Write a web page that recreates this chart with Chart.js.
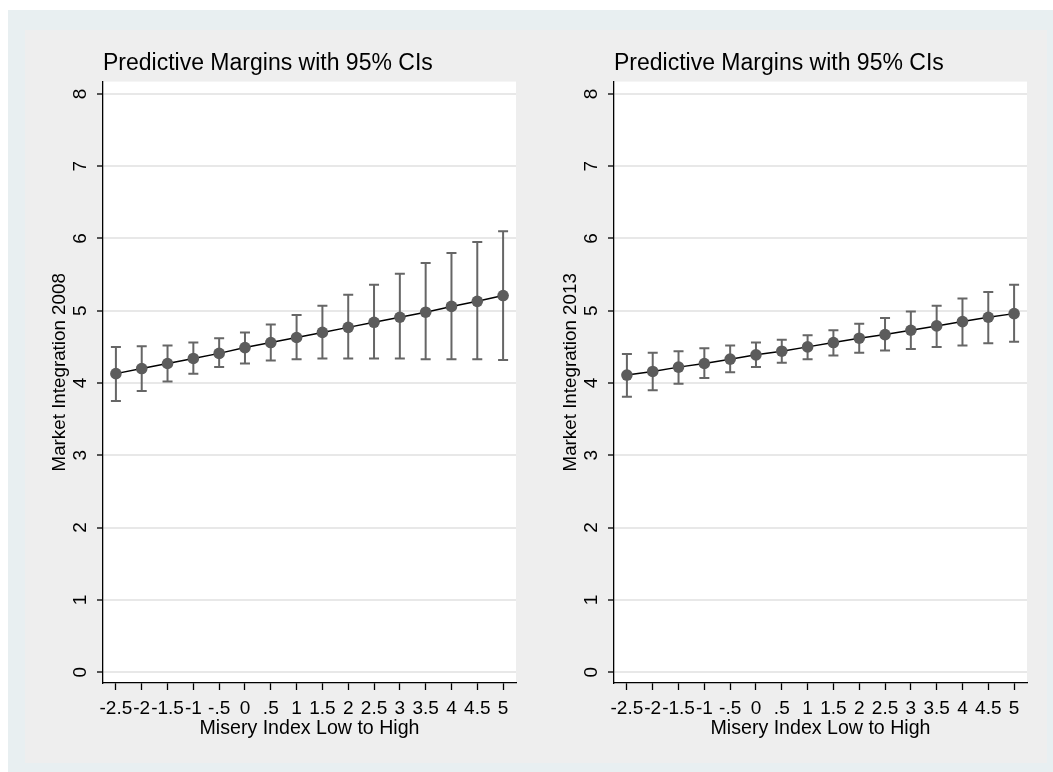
<!DOCTYPE html>
<html>
<head>
<meta charset="utf-8">
<script src="https://cdn.jsdelivr.net/npm/chart.js@4.4.0/dist/chart.umd.min.js"></script>
<style>
  body { margin: 0; width: 1053px; height: 772px; overflow: hidden; position: relative; background: #fff; }
  #back { position: absolute; left: 8px; top: 10px; width: 1045px; height: 762px; background: #e8eff1; }
  #panel { position: absolute; left: 25px; top: 30px; width: 1022px; height: 733px; background: #eeeeee; }
  .box { position: absolute; top: 30px; width: 511px; height: 733px; }
</style>
</head>
<body>
<div id="back"></div>
<div id="panel"></div>
<div class="box" style="left:25px"><canvas id="chart-2008" width="511" height="733"></canvas></div>
<div class="box" style="left:536px"><canvas id="chart-2013" width="511" height="733"></canvas></div>
<script>
var xVals = [-2.5, -2, -1.5, -1, -0.5, 0, 0.5, 1, 1.5, 2, 2.5, 3, 3.5, 4, 4.5, 5];
var xTickText = ['-2.5', '-2', '-1.5', '-1', '-.5', '0', '.5', '1', '1.5', '2', '2.5', '3', '3.5', '4', '4.5', '5'];
var yTickVals = [0, 1, 2, 3, 4, 5, 6, 7, 8];

var margin2008 = [4.13, 4.20, 4.27, 4.34, 4.41, 4.49, 4.56, 4.63, 4.70, 4.77, 4.84, 4.91, 4.98, 5.06, 5.13, 5.21];
var upper2008  = [4.50, 4.51, 4.52, 4.56, 4.62, 4.70, 4.81, 4.94, 5.07, 5.22, 5.36, 5.51, 5.66, 5.80, 5.95, 6.10];
var lower2008  = [3.75, 3.89, 4.02, 4.13, 4.22, 4.27, 4.31, 4.33, 4.34, 4.34, 4.34, 4.34, 4.33, 4.33, 4.33, 4.32];

var margin2013 = [4.11, 4.16, 4.22, 4.27, 4.33, 4.39, 4.44, 4.50, 4.56, 4.62, 4.67, 4.73, 4.79, 4.85, 4.91, 4.96];
var upper2013  = [4.40, 4.42, 4.44, 4.48, 4.52, 4.56, 4.60, 4.66, 4.73, 4.82, 4.90, 4.99, 5.07, 5.17, 5.26, 5.36];
var lower2013  = [3.81, 3.90, 3.99, 4.07, 4.15, 4.22, 4.28, 4.33, 4.38, 4.42, 4.45, 4.47, 4.50, 4.52, 4.55, 4.57];

var FONT = '"Liberation Sans", Arial, sans-serif';

// white plot region behind everything
var plotBg = {
  id: 'plotBg',
  beforeDraw: function(chart) {
    var a = chart.chartArea, ctx = chart.ctx;
    ctx.save();
    ctx.fillStyle = '#ffffff';
    ctx.fillRect(a.left, a.top, a.right - a.left, a.bottom - a.top);
    ctx.restore();
  }
};

// confidence interval bars with caps
var ciBars = {
  id: 'ciBars',
  beforeDatasetsDraw: function(chart) {
    var lo = chart.options.plugins.ciBars.lower, hi = chart.options.plugins.ciBars.upper;
    var xs = chart.scales.x, ys = chart.scales.y, ctx = chart.ctx;
    ctx.save();
    ctx.strokeStyle = '#666666';
    ctx.lineWidth = 2;
    for (var i = 0; i < xVals.length; i++) {
      var px = xs.getPixelForValue(xVals[i]);
      var y1 = ys.getPixelForValue(lo[i]);
      var y2 = ys.getPixelForValue(hi[i]);
      ctx.beginPath();
      ctx.moveTo(px, y1); ctx.lineTo(px, y2);
      ctx.moveTo(px - 5, y1); ctx.lineTo(px + 5, y1);
      ctx.moveTo(px - 5, y2); ctx.lineTo(px + 5, y2);
      ctx.stroke();
    }
    ctx.restore();
  }
};

// vertical y tick labels and the y axis title
var yLabels = {
  id: 'yLabels',
  afterDraw: function(chart) {
    var ys = chart.scales.y, ctx = chart.ctx;
    ctx.save();
    ctx.fillStyle = '#000';
    ctx.textAlign = 'center';
    ctx.textBaseline = 'middle';
    ctx.font = '19px ' + FONT;
    yTickVals.forEach(function(v) {
      ctx.save();
      ctx.translate(ys.right - 22, ys.getPixelForValue(v));
      ctx.rotate(-Math.PI / 2);
      ctx.fillText(String(v), 0, 0);
      ctx.restore();
    });
    ctx.font = '18.8px ' + FONT;
    ctx.translate(ys.left + 10, (ys.top + ys.bottom) / 2 - 10);
    ctx.rotate(-Math.PI / 2);
    ctx.fillText(chart.options.plugins.yLabels.title, 0, 0);
    ctx.restore();
  }
};

function makeChart(id, yTitle, mid, lo, hi) {
  new Chart(document.getElementById(id), {
    type: 'line',
    data: {
      datasets: [{
        data: xVals.map(function(x, i) { return { x: x, y: mid[i] }; }),
        borderColor: '#000000',
        borderWidth: 1.5,
        pointRadius: 5.8,
        pointBackgroundColor: '#5c5c5c',
        pointBorderWidth: 0,
        tension: 0
      }]
    },
    plugins: [plotBg, ciBars, yLabels],
    options: {
      responsive: false,
      animation: false,
      layout: { padding: { left: 25, right: 20, top: 20, bottom: 20 } },
      plugins: {
        legend: { display: false },
        tooltip: { enabled: false },
        ciBars: { lower: lo, upper: hi },
        yLabels: { title: yTitle },
        title: {
          display: true,
          text: 'Predictive Margins with 95% CIs',
          align: 'start',
          fullSize: false,
          color: '#000',
          font: { family: FONT, size: 23, weight: 'normal' },
          padding: { top: 0, bottom: 4 }
        }
      },
      scales: {
        x: {
          type: 'linear',
          min: -2.75,
          max: 5.25,
          afterBuildTicks: function(s) { s.ticks = xVals.map(function(v) { return { value: v }; }); },
          afterFit: function(s) { s.height = 60; },
          grid: { drawOnChartArea: false, drawTicks: true, tickLength: 7, tickColor: '#000', tickWidth: 1.3 },
          border: { display: true, color: '#000', width: 1.3 },
          ticks: {
            autoSkip: false,
            maxRotation: 0,
            minRotation: 0,
            padding: 7,
            color: '#000',
            font: { family: FONT, size: 19 },
            callback: function(v, i) { return xTickText[i]; }
          },
          title: {
            display: true,
            text: 'Misery Index Low to High',
            color: '#000',
            font: { family: FONT, size: 19.6 },
            padding: { top: 0, bottom: 3 }
          }
        },
        y: {
          min: -0.15,
          max: 8.17,
          afterBuildTicks: function(s) { s.ticks = yTickVals.map(function(v) { return { value: v }; }); },
          afterFit: function(s) { s.width = 53; },
          grid: { color: '#e8e8e8', lineWidth: 2, drawTicks: true, tickLength: 6, tickColor: '#000', tickWidth: 1.3 },
          border: { display: true, color: '#000', width: 1.3 },
          ticks: { display: false }
        }
      }
    }
  });
}

makeChart('chart-2008', 'Market Integration 2008', margin2008, lower2008, upper2008);
makeChart('chart-2013', 'Market Integration 2013', margin2013, lower2013, upper2013);
</script>
</body>
</html>
